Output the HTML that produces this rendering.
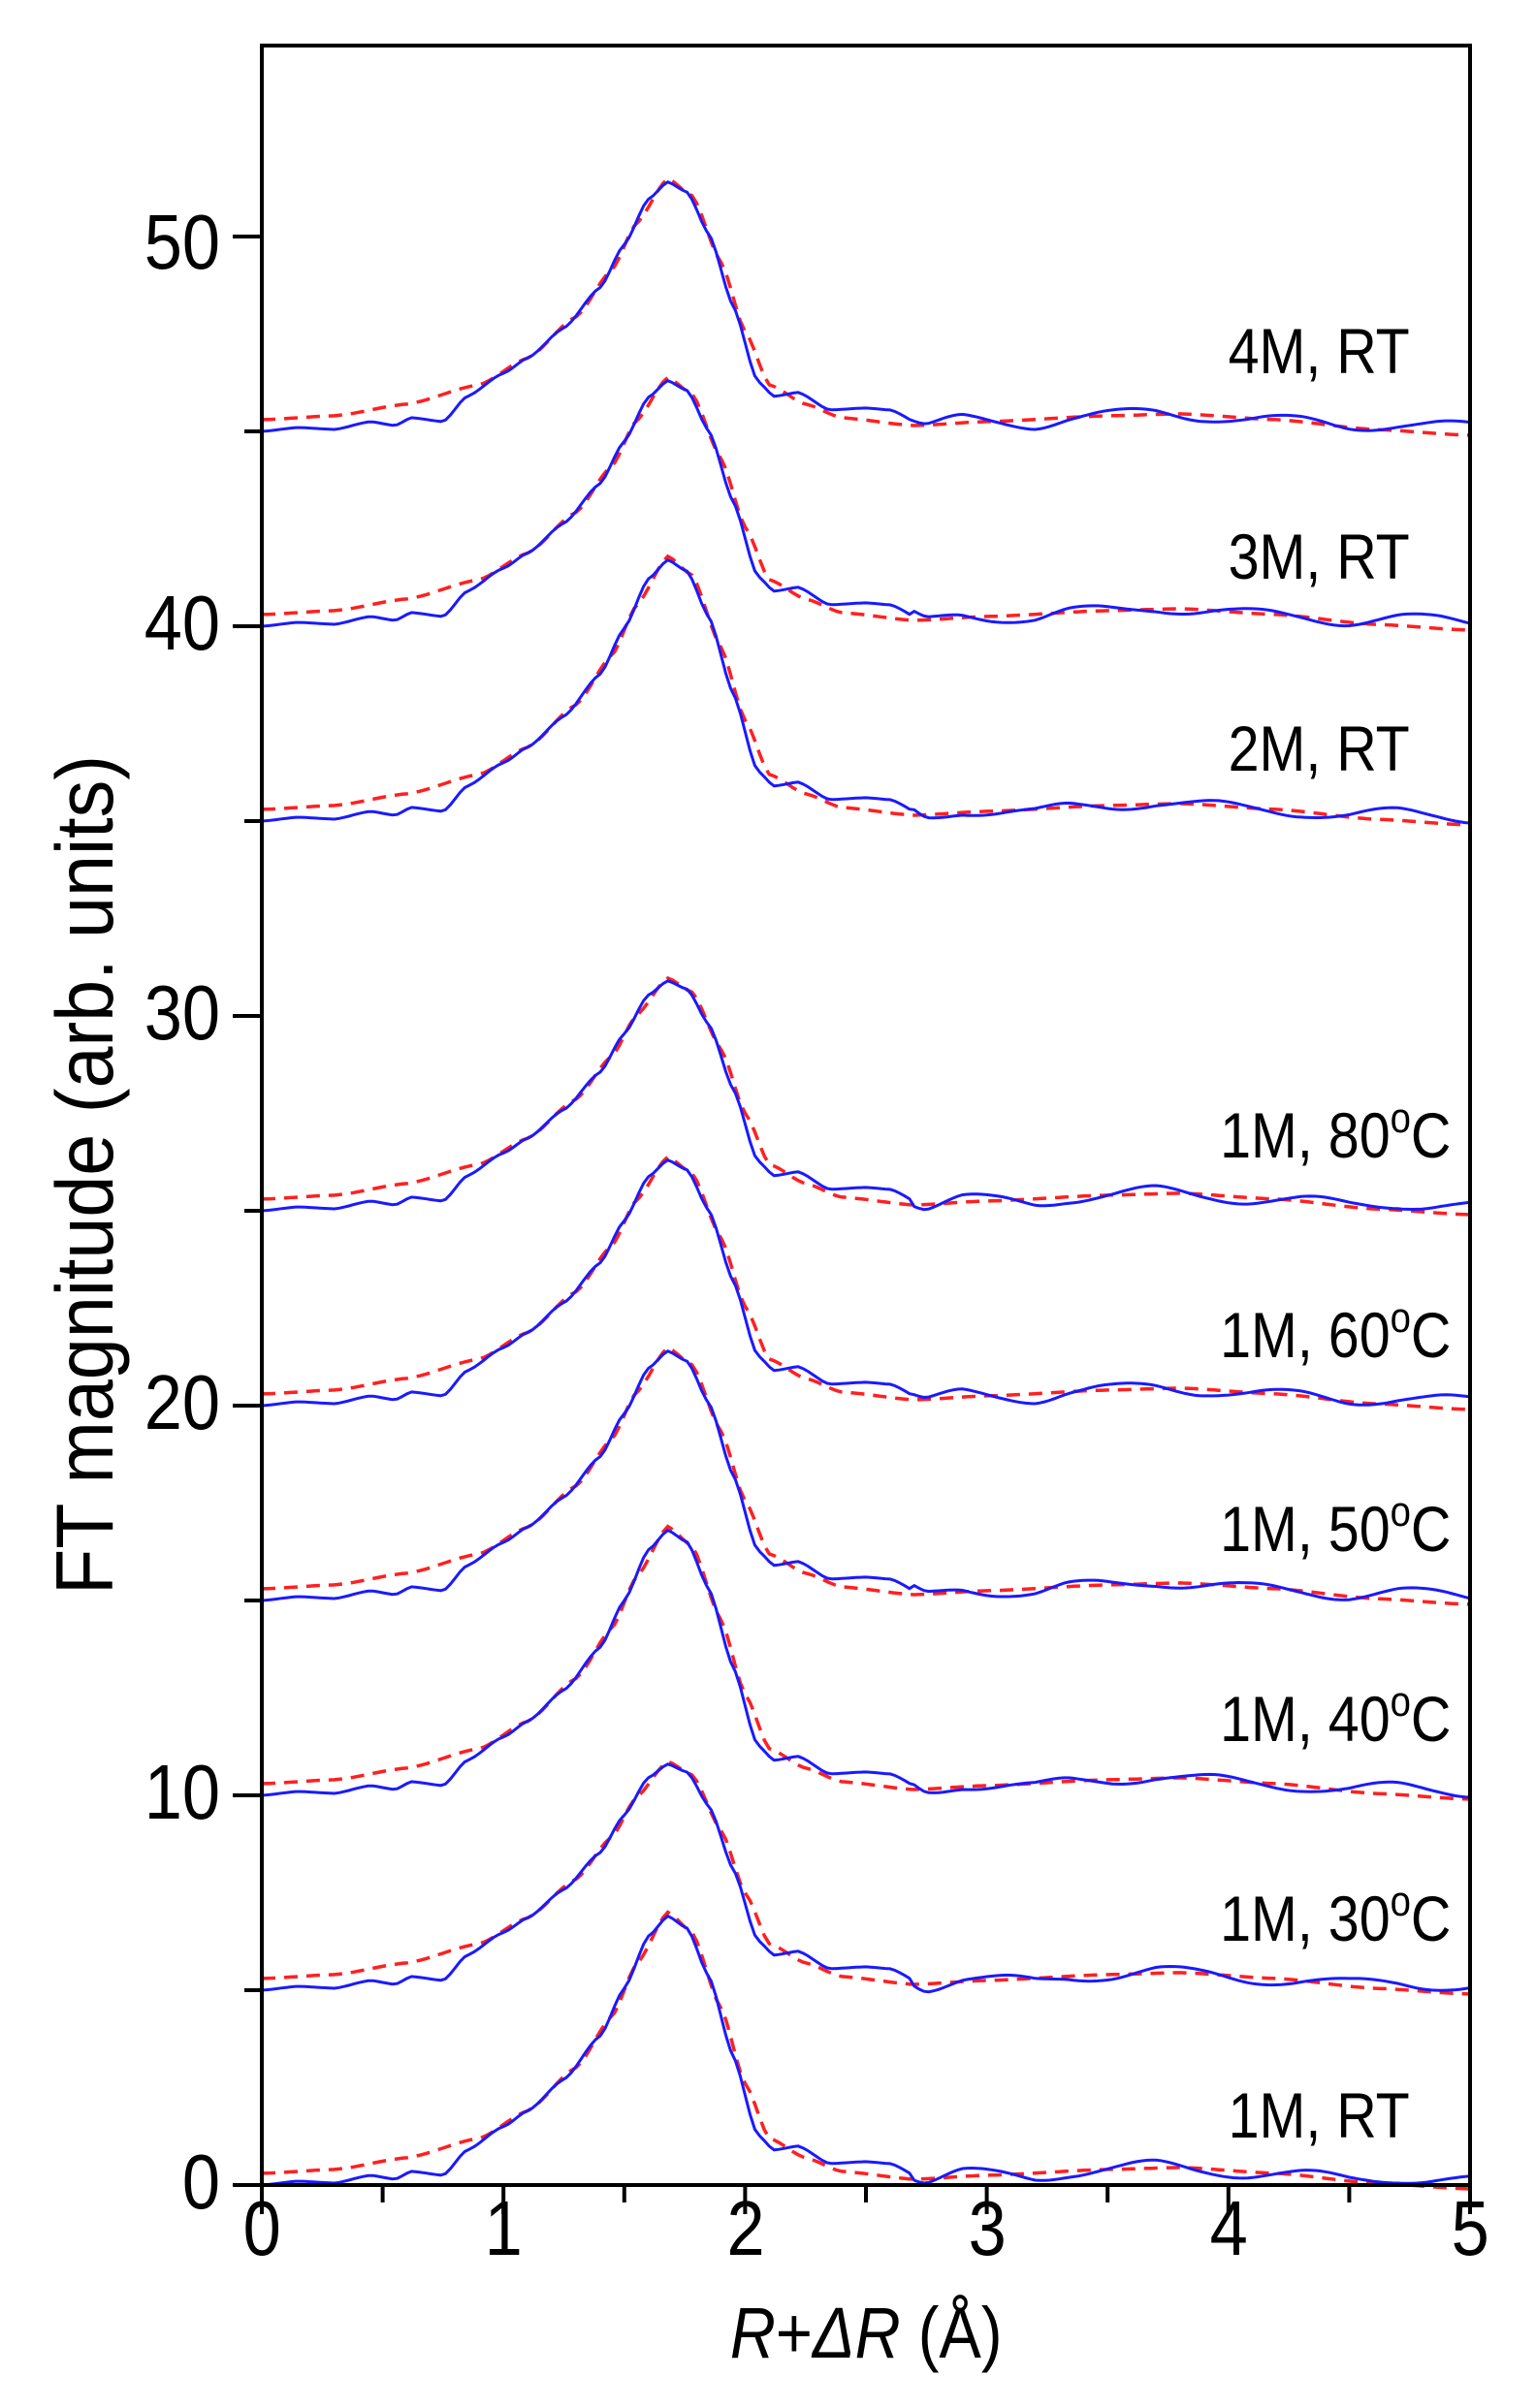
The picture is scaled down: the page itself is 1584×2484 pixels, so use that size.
<!DOCTYPE html>
<html><head><meta charset="utf-8"><style>
html,body{margin:0;padding:0;background:#fff;}
svg{display:block;font-family:"Liberation Sans",Arial,sans-serif;}
</style></head><body>
<svg id="s" width="1584" height="2484" viewBox="0 0 1584 2484" xmlns="http://www.w3.org/2000/svg">
<rect width="1584" height="2484" fill="#fff"/>
<g id="curves"></g>
<g stroke="#000" stroke-width="4" fill="none">
<rect x="270" y="47" width="1246" height="2207"/>
</g>
<g id="ticks" stroke="#000" stroke-width="4"></g>
<g font-size="80" fill="#000" text-anchor="end" transform="scale(0.88,1)">
<text x="258" y="2278">0</text>
<text x="258" y="1876">10</text>
<text x="258" y="1474">20</text>
<text x="258" y="1072">30</text>
<text x="258" y="670">40</text>
<text x="258" y="277">50</text>
</g>
<g font-size="80" fill="#000" text-anchor="middle" transform="scale(0.88,1)">
<text x="307" y="2326">0</text>
<text x="590" y="2326">1</text>
<text x="874" y="2326">2</text>
<text x="1157" y="2326">3</text>
<text x="1440" y="2326">4</text>
<text x="1723" y="2326">5</text>
<text x="1015" y="2432" font-size="74"><tspan font-style="italic">R</tspan>+<tspan font-style="italic">ΔR</tspan> (Å)</text>
</g>
<text transform="translate(116,1212) rotate(-90) scale(0.92,1)" font-size="84" text-anchor="middle" fill="#000">FT magnitude (arb. units)</text>
<g font-size="66" fill="#000" text-anchor="end" transform="scale(0.87,1)">
<text x="1671" y="385">4M, RT</text>
<text x="1671" y="597">3M, RT</text>
<text x="1671" y="795">2M, RT</text>
<text x="1720" y="1194">1M, 80<tspan dy="-26" font-size="44">o</tspan><tspan dy="26">C</tspan></text>
<text x="1720" y="1400">1M, 60<tspan dy="-26" font-size="44">o</tspan><tspan dy="26">C</tspan></text>
<text x="1720" y="1600">1M, 50<tspan dy="-26" font-size="44">o</tspan><tspan dy="26">C</tspan></text>
<text x="1720" y="1796">1M, 40<tspan dy="-26" font-size="44">o</tspan><tspan dy="26">C</tspan></text>
<text x="1720" y="2002">1M, 30<tspan dy="-26" font-size="44">o</tspan><tspan dy="26">C</tspan></text>
<text x="1671" y="2205">1M, RT</text>
</g>
</svg>
<script>
(function(){
var X0=270,X1=1516,Y0=2254,PY=40.2;
function px(r){return X0+(X1-X0)*r/5;}
function py(v){return Y0-v*PY;}
var NS="http://www.w3.org/2000/svg";
var t=document.getElementById("ticks");
function ln(x1,y1,x2,y2){var l=document.createElementNS(NS,"line");l.setAttribute("x1",x1);l.setAttribute("y1",y1);l.setAttribute("x2",x2);l.setAttribute("y2",y2);t.appendChild(l);}
for(var i=0;i<=10;i++){var x=px(i*0.5);ln(x,Y0,x,Y0+(i%2?18:30));}
for(var j=0;j<=11;j++){var y=py(j*5);if(y<47)continue;ln(X0,y,X0-(j%2?18:30),y);}
var B=[[0,0],[0.15,0.1],[0.3,0.05],[0.45,0.25],[0.55,0.15],[0.62,0.35],[0.75,0.25],[0.85,0.9],[1.0,1.5],[1.1,1.9],[1.25,2.7],[1.4,3.8],[1.5,5.0],[1.6,6.3],[1.68,6.8],[1.76,6.5],[1.85,5.3],[1.95,3.3],[2.05,1.3],[2.12,0.9],[2.22,1.0],[2.35,0.55],[2.5,0.6],[2.6,0.55],[2.75,0.1],[2.9,0.3],[3.05,0.25],[3.2,0.2],[3.35,0.35],[3.5,0.4],[3.7,0.5],[3.9,0.4],[4.1,0.3],[4.3,0.25],[4.5,0.15],[4.7,0.2],[4.85,0.15],[5,0.1]];
var R=[[0,0.3],[0.3,0.4],[0.6,0.7],[0.9,1.2],[1.1,1.9],[1.3,3.0],[1.45,4.3],[1.55,5.6],[1.68,6.9],[1.78,6.4],[1.9,4.5],[2.0,2.6],[2.1,1.2],[2.25,0.7],[2.4,0.35],[2.7,0.15],[3.0,0.25],[3.5,0.4],[3.8,0.45],[4.2,0.3],[4.6,0.05],[5,-0.1]];
var S=[[0,6.9,0],[5,5.8,1],[10,6.8,2],[15,6.4,3],[20,6.3,4],[25,5.9,5],[35,6.7,6],[40,6.3,7],[45,6.4,8]];
function interp(P,r){for(var k=0;k<P.length-1;k++){if(r<=P[k+1][0]){var a=P[k],b=P[k+1];var u=(r-a[0])/(b[0]-a[0]);u=u*u*(3-2*u)*0.5+u*0.5;return a[1]+(b[1]-a[1])*u;}}return P[P.length-1][1];}
function path(P,off,scale,w){var d="";for(var r=0;r<=5.0001;r+=0.02){var v=interp(P,r);var sc=v>1?1+(scale/6.8-1)*(v-1)/5.8:1;var wv=(w&&r>2.7)?0.15*Math.sin(r*9+off):0;d+=(d?"L":"M")+px(r).toFixed(1)+","+py(off+v*sc+wv).toFixed(1);}return d;}
var g=document.getElementById("curves");
S.forEach(function(s){
 var p1=document.createElementNS(NS,"path");p1.setAttribute("d",path(R,s[0],s[1],false));p1.setAttribute("fill","none");p1.setAttribute("stroke","#ff2020");p1.setAttribute("stroke-width","3.5");p1.setAttribute("stroke-dasharray","14 9");g.appendChild(p1);
 var p2=document.createElementNS(NS,"path");p2.setAttribute("d",path(B,s[0],s[1],true));p2.setAttribute("fill","none");p2.setAttribute("stroke","#1a1aff");p2.setAttribute("stroke-width","3");g.appendChild(p2);
});
})();
</script>
</body></html>
